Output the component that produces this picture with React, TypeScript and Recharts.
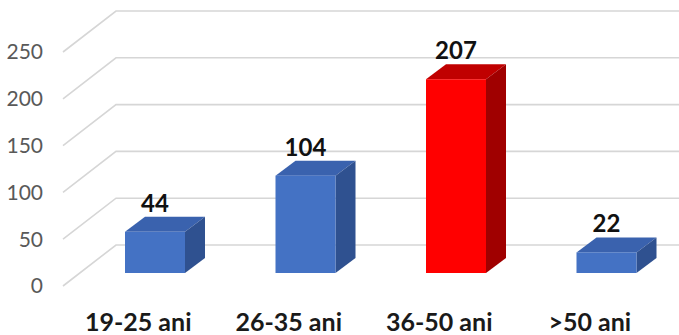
import React from "react";
import { BarChart, Bar, XAxis, YAxis, CartesianGrid, LabelList, Cell } from "recharts";

const categories = ["19-25 ani", "26-35 ani", "36-50 ani", ">50 ani"];
const counts = [44, 104, 207, 22];
const yTicks = [0, 50, 100, 150, 200, 250];
const highlighted = "36-50 ani";

const data = categories.map((c, i) => ({ name: c, value: counts[i] }));

const W = 679;
const H = 335;
const FONT = "Lato, 'Open Sans', sans-serif";

// perspective offsets
const WALL_DX = 53;
const WALL_DY = -41;
const FRONT_DX = 17;
const FRONT_DY = -13;
const DEPTH_DX = 20;
const DEPTH_DY = -15;

const BLUE = { front: "#4472C4", top: "#3A62AE", side: "#2F5190" };
const RED = { front: "#FF0000", top: "#C00000", side: "#A00000" };

const Bar3D = (props: any) => {
  const { x, y, width, height, payload } = props;
  const c = payload && payload.name === highlighted ? RED : BLUE;
  const fx = x + FRONT_DX;
  const fy = y + FRONT_DY;
  const fb = y + height + FRONT_DY;
  const w = width;
  return (
    <g>
      <polygon
        points={`${fx},${fy} ${fx + DEPTH_DX},${fy + DEPTH_DY} ${fx + w + DEPTH_DX},${fy + DEPTH_DY} ${fx + w},${fy}`}
        fill={c.top}
      />
      <polygon
        points={`${fx + w},${fy} ${fx + w + DEPTH_DX},${fy + DEPTH_DY} ${fx + w + DEPTH_DX},${fb + DEPTH_DY} ${fx + w},${fb}`}
        fill={c.side}
      />
      <rect x={fx} y={fy} width={w} height={fb - fy} fill={c.front} />
    </g>
  );
};

const ValueLabel = (props: any) => {
  const { x, y, width, value } = props;
  const cx = x + FRONT_DX + width / 2;
  const by = y + FRONT_DY + DEPTH_DY - 5;
  return (
    <text
      x={cx}
      y={by}
      textAnchor="middle"
      fontFamily={FONT}
      fontWeight="bold"
      fontSize={24}
      fill="#111"
    >
      {value}
    </text>
  );
};

const GridLine = (props: any) => {
  const { x1, y1, index } = props;
  return (
    <path
      key={`g-${index}-${y1}`}
      d={`M${x1},${y1} L${x1 + WALL_DX},${y1 + WALL_DY} L${W},${y1 + WALL_DY}`}
      stroke="#d6d6d6"
      strokeWidth={1.6}
      fill="none"
    />
  );
};

export default function App() {
  return (
    <div style={{ position: "absolute", left: 0, top: 0, width: W, height: H, background: "#fff" }}>
      <BarChart
        width={W}
        height={H}
        data={data}
        margin={{ top: 52, right: 14, bottom: 19, left: 0 }}
        barSize={60}
      >
        <CartesianGrid vertical={false} horizontal={GridLine as any} />
        <XAxis
          dataKey="name"
          height={30}
          axisLine={false}
          tickLine={false}
          tickSize={0}
          tickMargin={27}
          interval={0}
          tick={{ fontFamily: FONT, fontWeight: "bold", fontSize: 25, fill: "#1a1a1a" }}
        />
        <YAxis
          width={63}
          domain={[0, 250]}
          ticks={yTicks}
          axisLine={false}
          tickLine={false}
          tickSize={0}
          tickMargin={20}
          tick={{ fontFamily: FONT, fontSize: 21, fill: "#595959" }}
        />
        <Bar dataKey="value" shape={Bar3D as any} isAnimationActive={false}>
          {data.map((d) => (
            <Cell key={d.name} fill={d.name === highlighted ? RED.front : BLUE.front} />
          ))}
          <LabelList dataKey="value" content={ValueLabel as any} />
        </Bar>
      </BarChart>
    </div>
  );
}
